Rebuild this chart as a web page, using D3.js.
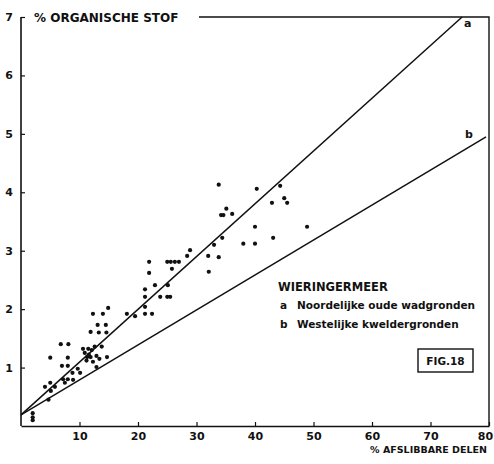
<!DOCTYPE html>
<html>
<head>
<meta charset="utf-8">
<script src="https://cdn.jsdelivr.net/npm/d3@7"></script>
<style>
  html, body { margin: 0; padding: 0; background: #fff; }
  svg text { font-family: "DejaVu Sans", "Liberation Sans", sans-serif; fill: #111; }
</style>
</head>
<body>
<div id="chart"></div>
<script>
  "use strict";

  // % afslibbare delen (x) and % organische stof (y)
  const afslibbaar = [
    33.8, 35.1, 34.2, 34.6, 36.1, 34.4, 33.0, 33.8, 32.0, 32.1, 38.0, 28.9, 28.4,
    25.0, 25.6, 26.3, 27.0, 25.8, 21.9, 21.9, 22.9, 21.2, 25.1, 21.2, 23.8, 25.0,
    25.5, 21.2, 21.2, 22.4, 18.1, 19.5, 12.3, 14.0, 14.9,
    40.3, 44.3, 42.9, 45.0, 45.5, 40.0, 48.9, 43.1, 40.0,
    13.1, 14.5, 11.9, 13.3, 14.6, 6.8, 8.1, 5.0, 8.0, 7.0, 8.0, 10.6, 11.5, 12.1,
    13.8, 14.7, 12.9, 11.3, 11.9, 12.3, 8.8, 10.1, 9.7, 7.2, 8.0, 8.9, 7.5, 5.0,
    4.1, 5.8, 5.1, 4.7, 2.0, 2.0, 2.0, 10.9, 11.6, 12.6, 12.9, 13.4, 11.2
  ];
  const organisch = [
    4.13, 3.72, 3.61, 3.61, 3.63, 3.22, 3.10, 2.89, 2.91, 2.64, 3.12, 3.01, 2.91,
    2.81, 2.81, 2.81, 2.81, 2.69, 2.81, 2.62, 2.41, 2.34, 2.41, 2.21, 2.21, 2.21,
    2.21, 2.04, 1.92, 1.92, 1.92, 1.88, 1.92, 1.92, 2.02,
    4.06, 4.11, 3.82, 3.90, 3.82, 3.41, 3.41, 3.22, 3.12,
    1.73, 1.73, 1.61, 1.60, 1.60, 1.40, 1.40, 1.17, 1.17, 1.03, 1.03, 1.32, 1.32, 1.30,
    1.36, 1.18, 1.01, 1.18, 1.18, 1.10, 0.91, 0.91, 0.98, 0.80, 0.80, 0.79, 0.74, 0.74,
    0.67, 0.67, 0.60, 0.45, 0.22, 0.15, 0.10, 1.25, 1.22, 1.36, 1.20, 1.15, 1.12
  ];

  // regression lines, end points as drawn
  const lineA = [[0, 0.19], [75.4, 7.0]];
  const lineB = [[0, 0.19], [79.5, 4.95]];

  const xTicks = [10, 20, 30, 40, 50, 60, 70, 80];
  const yTicks = [1, 2, 3, 4, 5, 6, 7];

  const legendTitle = "WIERINGERMEER";
  const legendItems = [
    ["a", "Noordelijke oude wadgronden"],
    ["b", "Westelijke kweldergronden"]
  ];

  (function () {
    const width = 494;
    const height = 464;
    const plot = { left: 21, right: 489, top: 17, bottom: 426 };

    const svg = d3.select("#chart").append("svg")
      .attr("width", width)
      .attr("height", height)
      .attr("viewBox", `0 0 ${width} ${height}`);

    const x = d3.scaleLinear().domain([0, 80]).range([plot.left, plot.right]);
    const y = d3.scaleLinear().domain([0, 7]).range([plot.bottom, plot.top]);

    // frame: right border and top rule after the title
    svg.append("path")
      .attr("d", `M199,${plot.top}H${plot.right}V${plot.bottom}`)
      .attr("fill", "none")
      .attr("stroke", "#111")
      .attr("stroke-width", 1.4);

    const yAxis = svg.append("g")
      .attr("transform", `translate(${plot.left},0)`)
      .call(d3.axisLeft(y).tickValues(yTicks).tickFormat(d3.format("d"))
        .tickSizeInner(-4).tickSizeOuter(0).tickPadding(8));
    yAxis.select(".domain").attr("d", `M0,${plot.top}V${plot.bottom}`);

    const xAxis = svg.append("g")
      .attr("transform", `translate(0,${plot.bottom})`)
      .call(d3.axisBottom(x).tickValues(xTicks).tickFormat(d3.format("d"))
        .tickSizeInner(-4).tickSizeOuter(0).tickPadding(6));
    // last label sits against the page edge
    xAxis.selectAll(".tick text").filter((d) => d === 80).attr("dx", -4);

    [yAxis, xAxis].forEach((g) => {
      g.select(".domain").attr("stroke", "#111").attr("stroke-width", 1.6);
      g.selectAll(".tick line").attr("stroke", "#111").attr("stroke-width", 1.2);
      g.selectAll(".tick text")
        .attr("fill", "#111")
        .style("font-family", "'DejaVu Sans', sans-serif")
        .style("font-weight", "bold")
        .style("font-size", "11px");
    });

    // regression lines
    const line = d3.line().x((d) => x(d[0])).y((d) => y(d[1]));
    svg.selectAll("path.reg")
      .data([lineA, lineB])
      .join("path")
      .attr("class", "reg")
      .attr("d", line)
      .attr("fill", "none")
      .attr("stroke", "#111")
      .attr("stroke-width", 1.5);

    svg.append("text").attr("x", x(75.4) + 2).attr("y", y(7) + 10)
      .style("font-weight", "bold").style("font-size", "11px").text("a");
    svg.append("text").attr("x", x(79.5) - 21).attr("y", y(4.95) + 1)
      .style("font-weight", "bold").style("font-size", "11px").text("b");

    // data points
    svg.append("g")
      .selectAll("circle")
      .data(afslibbaar.map((v, i) => [v, organisch[i]]))
      .join("circle")
      .attr("cx", (d) => x(d[0]))
      .attr("cy", (d) => y(d[1]))
      .attr("r", 2.1)
      .attr("fill", "#111");

    // axis titles
    svg.append("text")
      .attr("x", 34).attr("y", plot.top + 5)
      .style("font-weight", "bold").style("font-size", "12px")
      .text("% ORGANISCHE STOF");

    svg.append("text")
      .attr("x", plot.right - 2).attr("y", 453)
      .attr("text-anchor", "end")
      .style("font-weight", "bold").style("font-size", "9.5px")
      .text("% AFSLIBBARE DELEN");

    // legend
    const legend = svg.append("g").attr("transform", "translate(278,291)");
    legend.append("text")
      .style("font-weight", "bold").style("font-size", "11.5px")
      .text(legendTitle);
    legendItems.forEach((d, i) => {
      const row = legend.append("g").attr("transform", `translate(0,${18 + i * 19})`);
      row.append("text").attr("x", 2)
        .style("font-weight", "bold").style("font-size", "10.5px").text(d[0]);
      row.append("text").attr("x", 19)
        .style("font-weight", "bold").style("font-size", "10.5px").text(d[1]);
    });

    // figure tag
    svg.append("rect")
      .attr("x", 418).attr("y", 349).attr("width", 55).attr("height", 23)
      .attr("fill", "none").attr("stroke", "#111").attr("stroke-width", 1.4);
    svg.append("text")
      .attr("x", 445.5).attr("y", 365).attr("text-anchor", "middle")
      .style("font-weight", "bold").style("font-size", "10.5px")
      .text("FIG.18");
  })();
</script>
</body>
</html>
